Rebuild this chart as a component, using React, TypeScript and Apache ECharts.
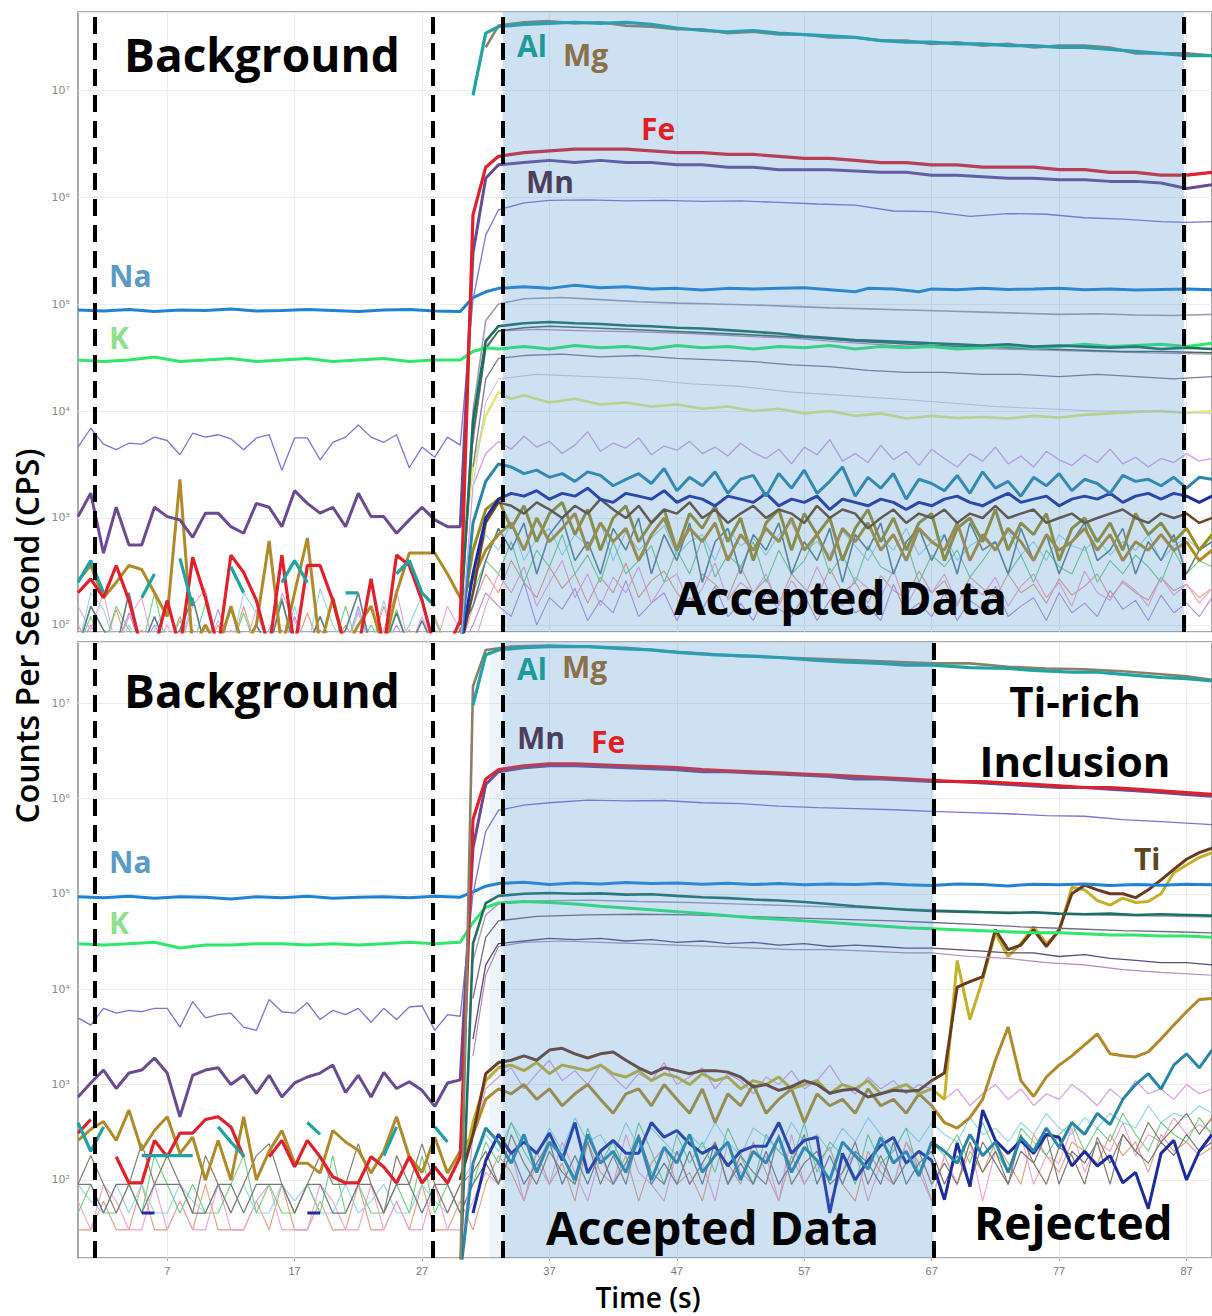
import React, { useEffect, useRef } from "react";
import * as echarts from "echarts";

// ---------------- axes ----------------
const X_MIN = 0;
const X_MAX = 89;
const X_TICKS = [7, 17, 27, 37, 47, 57, 67, 77, 87];
const TOP_Y_RANGE = [86, 5.36e7];
const BOT_Y_RANGE = [15.2, 4.36e7];
const SUPERSCRIPTS = ["⁰", "¹", "²", "³", "⁴", "⁵", "⁶", "⁷", "⁸", "⁹"];

// ---------------- windows (s) ----------------
const TOP_DASHED = [1.33, 27.84, 33.33, 86.82];
const BOT_DASHED = [1.33, 27.84, 33.33, 67.14];
const TOP_ACCEPTED = [33.33, 86.82];
const BOT_ACCEPTED = [33.33, 67.14];
const BOT_EDGE = [32.3, 33.33];

type Pt = [number, number | string];
const seq = (start: number, vals: (number | null)[]): Pt[] =>
  vals.map((v, i) => [start + i, v == null ? "-" : v] as Pt);

// =============== TOP PANEL ===============
const AL_TOP_BG = [250, 400, 200, null, null, 180, 300, null, 420, 150, null, null, 350, 200, null, null, 250, 400, 250, null, null, 200, 200, null, null, 300, 400, 200, 150, null, null];
const AL_TOP_SIG: Pt[] = [[31, 8.9e6], [32, 3.4e7], [33, 3.9e7], [35, 4.1e7], [37, 4.2e7], [39, 4.3e7], [41, 4.2e7], [43, 4.3e7], [45, 4.1e7], [47, 3.8e7], [49, 3.6e7], [51, 3.5e7], [53, 3.6e7], [55, 3.4e7], [57, 3.3e7], [59, 3.2e7], [61, 3.1e7], [63, 2.9e7], [65, 2.8e7], [67, 2.8e7], [69, 2.7e7], [71, 2.7e7], [73, 2.6e7], [75, 2.6e7], [77, 2.5e7], [79, 2.5e7], [81, 2.4e7], [83, 2.3e7], [85, 2.2e7], [87, 2.1e7], [89, 2.1e7]];
const MG_TOP: Pt[] = [[32, 2.5e7], [33, 4.0e7], [35, 4.3e7], [37, 4.4e7], [39, 4.2e7], [41, 4.3e7], [43, 4.0e7], [45, 3.9e7], [47, 3.7e7], [49, 3.7e7], [51, 3.4e7], [53, 3.5e7], [55, 3.3e7], [57, 3.3e7], [59, 3.1e7], [61, 3.1e7], [63, 2.9e7], [65, 2.9e7], [67, 2.7e7], [69, 2.8e7], [71, 2.6e7], [73, 2.7e7], [75, 2.5e7], [77, 2.6e7], [79, 2.6e7], [81, 2.5e7], [83, 2.2e7], [85, 2.2e7], [87, 2.2e7], [89, 2.1e7]];
const FE_TOP_BG = [200, 270, 180, 360, 170, 60, 60, 170, 60, 430, 180, 60, 450, 310, 170, 60, 450, 60, 360, 360, 170, 60, 60, 270, 60, 450, 360, 170, 60, 60, 110];
const FE_TOP_SIG: Pt[] = [[31, 6.8e5], [32, 1.9e6], [33, 2.4e6], [35, 2.6e6], [37, 2.7e6], [39, 2.8e6], [41, 2.8e6], [43, 2.8e6], [45, 2.7e6], [47, 2.6e6], [49, 2.6e6], [51, 2.5e6], [53, 2.5e6], [55, 2.4e6], [57, 2.3e6], [59, 2.3e6], [61, 2.2e6], [63, 2.1e6], [65, 2.1e6], [67, 2.0e6], [69, 2.0e6], [71, 1.9e6], [73, 1.9e6], [75, 1.9e6], [77, 1.8e6], [79, 1.8e6], [81, 1.7e6], [83, 1.7e6], [85, 1.6e6], [87, 1.6e6], [89, 1.7e6]];
const MN_TOP_BG = [1030, 1700, 470, 1260, 560, 560, 1260, 1030, 960, 660, 1110, 1110, 830, 720, 1370, 1260, 830, 1800, 1370, 1110, 1260, 830, 1700, 1030, 1030, 720, 960, 1260, 960, 830, 830];
const MN_TOP_SIG: Pt[] = [[31, 3e5], [32, 1.5e6], [33, 2.0e6], [35, 2.1e6], [37, 2.2e6], [39, 2.1e6], [41, 2.2e6], [43, 2.1e6], [45, 2.1e6], [47, 2.0e6], [49, 2.0e6], [51, 1.9e6], [53, 1.9e6], [55, 1.8e6], [57, 1.8e6], [59, 1.8e6], [61, 1.75e6], [63, 1.7e6], [65, 1.7e6], [67, 1.6e6], [69, 1.6e6], [71, 1.55e6], [73, 1.5e6], [75, 1.5e6], [77, 1.45e6], [79, 1.45e6], [81, 1.4e6], [83, 1.4e6], [85, 1.35e6], [87, 1.2e6], [89, 1.3e6]];
const VIOLET_TOP_BG = [4600, 6900, 4900, 4350, 5000, 4900, 5700, 5300, 3900, 6200, 5700, 6000, 5500, 4350, 5600, 6000, 2800, 5600, 5600, 3500, 5100, 5700, 7400, 5700, 5100, 6000, 2950, 4600, 3700, 5700, 4800];
const VIOLET_TOP_SIG: Pt[] = [[31, 1.1e5], [32, 4.4e5], [33, 7.6e5], [35, 8.8e5], [37, 9.3e5], [40, 9.4e5], [43, 9.2e5], [46, 9.3e5], [49, 9.1e5], [52, 9.2e5], [55, 8.9e5], [58, 8.6e5], [61, 8.4e5], [64, 7.4e5], [67, 7.3e5], [70, 6.6e5], [73, 7.0e5], [76, 6.9e5], [79, 6.4e5], [82, 6.2e5], [85, 5.9e5], [87, 5.8e5], [89, 5.9e5]];
const NA_TOP: Pt[] = [[0, 8.8e4], [2, 8.6e4], [4, 8.9e4], [6, 8.5e4], [8, 8.8e4], [10, 8.7e4], [12, 9.0e4], [14, 8.6e4], [16, 8.7e4], [18, 8.9e4], [20, 8.7e4], [22, 8.5e4], [24, 8.8e4], [26, 8.9e4], [28, 8.6e4], [30, 8.5e4], [31, 1.15e5], [32, 1.3e5], [33, 1.4e5], [35, 1.45e5], [37, 1.4e5], [39, 1.5e5], [41, 1.42e5], [43, 1.45e5], [45, 1.38e5], [47, 1.4e5], [49, 1.35e5], [51, 1.4e5], [53, 1.38e5], [55, 1.4e5], [57, 1.42e5], [59, 1.36e5], [61, 1.3e5], [62, 1.4e5], [64, 1.38e5], [66, 1.3e5], [67, 1.38e5], [69, 1.36e5], [71, 1.4e5], [73, 1.37e5], [75, 1.38e5], [77, 1.4e5], [79, 1.36e5], [81, 1.38e5], [83, 1.35e5], [85, 1.37e5], [87, 1.38e5], [89, 1.36e5]];
const K_TOP: Pt[] = [[0, 3.0e4], [2, 2.9e4], [4, 3.0e4], [6, 3.2e4], [8, 2.9e4], [10, 3.0e4], [12, 3.1e4], [14, 2.9e4], [16, 3.0e4], [18, 3.1e4], [20, 2.9e4], [22, 3.0e4], [24, 3.1e4], [26, 2.9e4], [28, 3.0e4], [30, 3.0e4], [31, 3.6e4], [32, 3.9e4], [33, 3.8e4], [35, 4.0e4], [37, 3.8e4], [39, 4.1e4], [41, 3.9e4], [43, 4.0e4], [45, 3.8e4], [47, 4.1e4], [49, 3.9e4], [51, 4.0e4], [53, 3.8e4], [55, 4.0e4], [57, 3.9e4], [59, 4.1e4], [61, 3.8e4], [63, 4.0e4], [65, 3.9e4], [67, 4.0e4], [69, 3.8e4], [71, 3.9e4], [73, 4.1e4], [75, 3.9e4], [77, 4.0e4], [79, 4.2e4], [81, 4.0e4], [83, 4.1e4], [85, 4.2e4], [87, 4.0e4], [89, 4.3e4]];
const DKTEAL_TOP: Pt[] = [[30, 100], [31, 8e3], [32, 4.5e4], [33, 6.2e4], [35, 6.6e4], [37, 6.8e4], [39, 6.6e4], [41, 6.5e4], [43, 6.3e4], [45, 6.2e4], [47, 6.0e4], [49, 5.9e4], [51, 5.7e4], [53, 5.5e4], [55, 5.3e4], [57, 5.0e4], [59, 4.8e4], [61, 4.6e4], [63, 4.5e4], [65, 4.4e4], [67, 4.3e4], [69, 4.2e4], [71, 4.1e4], [73, 4.2e4], [75, 4.0e4], [77, 4.1e4], [79, 4.0e4], [81, 3.9e4], [83, 4.0e4], [85, 3.8e4], [87, 3.9e4], [89, 3.8e4]];
const DKGREEN_TOP: Pt[] = [[30, 100], [31, 6e3], [32, 3.8e4], [33, 5.6e4], [35, 6.0e4], [37, 6.2e4], [40, 6.0e4], [43, 5.8e4], [46, 5.6e4], [49, 5.4e4], [52, 5.2e4], [55, 5.0e4], [58, 4.8e4], [61, 4.5e4], [64, 4.3e4], [67, 4.1e4], [70, 4.0e4], [73, 3.9e4], [76, 3.8e4], [79, 3.7e4], [82, 3.6e4], [85, 3.6e4], [89, 3.5e4]];
const GRAY_TOP: Pt[] = [[30, 100], [31, 1e4], [32, 7e4], [33, 1.0e5], [35, 1.12e5], [38, 1.15e5], [41, 1.1e5], [44, 1.05e5], [47, 1.02e5], [50, 1.0e5], [53, 9.8e4], [56, 9.5e4], [59, 9.2e4], [62, 9.0e4], [65, 8.8e4], [68, 8.6e4], [71, 8.4e4], [74, 8.2e4], [77, 8.0e4], [80, 8.1e4], [83, 7.9e4], [86, 7.8e4], [89, 8.0e4]];
const PINKGRAY_TOP: Pt[] = [[31, 5e3], [32, 4e4], [33, 5.6e4], [36, 5.8e4], [40, 5.6e4], [44, 5.5e4], [48, 5.3e4], [52, 5.0e4], [56, 4.8e4], [60, 4.4e4], [64, 4.1e4], [68, 3.9e4], [72, 3.8e4], [76, 3.7e4], [80, 3.6e4], [84, 3.5e4], [89, 3.4e4]];
const GRAYPURPLE_TOP: Pt[] = [[31, 3e3], [32, 2e4], [33, 3.1e4], [35, 3.3e4], [38, 3.4e4], [41, 3.2e4], [44, 3.3e4], [47, 3.1e4], [50, 3.0e4], [53, 2.9e4], [56, 2.7e4], [59, 2.6e4], [62, 2.4e4], [65, 2.3e4], [68, 2.3e4], [71, 2.2e4], [74, 2.2e4], [77, 2.1e4], [80, 2.2e4], [83, 2.1e4], [86, 2.0e4], [89, 2.1e4]];
const LIGHTGRAY_TOP: Pt[] = [[31, 2e3], [32, 1.2e4], [33, 2.0e4], [36, 2.2e4], [40, 2.1e4], [44, 2.0e4], [48, 1.8e4], [52, 1.7e4], [56, 1.5e4], [60, 1.4e4], [64, 1.3e4], [68, 1.2e4], [72, 1.1e4], [76, 1.05e4], [80, 1.0e4], [84, 1.0e4], [89, 9.5e3]];
const YELLOW_TOP: Pt[] = [[30, 300], [31, 3e3], [32, 9e3], [33, 1.5e4], [34, 1.3e4], [35, 1.4e4], [37, 1.2e4], [39, 1.3e4], [41, 1.15e4], [43, 1.2e4], [45, 1.1e4], [47, 1.15e4], [49, 1.05e4], [51, 1.1e4], [53, 1.0e4], [55, 1.05e4], [57, 9.5e3], [59, 1.0e4], [61, 9.0e3], [63, 9.5e3], [65, 8.5e3], [67, 9.0e3], [69, 8.6e3], [71, 8.8e3], [73, 8.5e3], [75, 9.0e3], [77, 8.7e3], [79, 9.2e3], [81, 9.5e3], [83, 9.8e3], [85, 1.0e4], [87, 9.6e3], [89, 1.0e4]];
const ORCHID_TOP = [60, 2e3, 4e3, 5.2e3, 4.4e3, 5.8e3, 4.6e3, 5.2e3, 4.0e3, 4.8e3, 6.4e3, 4.2e3, 5.0e3, 4.5e3, 5.6e3, 3.9e3, 4.7e3, 4.3e3, 5.2e3, 4.0e3, 4.6e3, 3.8e3, 5.0e3, 4.1e3, 3.6e3, 4.4e3, 3.2e3, 4.6e3, 3.9e3, 5.4e3, 3.4e3, 4.0e3, 3.3e3, 4.8e3, 3.5e3, 4.2e3, 3.1e3, 4.4e3, 3.6e3, 3.0e3, 4.0e3, 3.4e3, 4.6e3, 3.2e3, 3.8e3, 3.0e3, 4.2e3, 3.5e3, 3.1e3, 3.9e3, 3.3e3, 4.4e3, 3.2e3, 3.7e3, 3.0e3, 3.6e3, 3.3e3, 4.0e3, 3.4e3, 3.6e3];
const TEAL_TOP = [60, 900, 2200, 3200, 3000, 2600, 2800, 2400, 2600, 2200, 2700, 2500, 2000, 2300, 2600, 2100, 2900, 1800, 2400, 2000, 2700, 1700, 2300, 2500, 1600, 2600, 1900, 2800, 1700, 2200, 3000, 1600, 2400, 1900, 2600, 1500, 2300, 2100, 1800, 2500, 1700, 2700, 1900, 2200, 1600, 2400, 2000, 2600, 1800, 2300, 2100, 1700, 2500, 2200, 2300, 2000, 2400, 1900, 2400, 2300];
const DKBLUE_TOP = [60, 300, 1000, 1500, 1700, 1600, 1800, 1500, 1700, 1600, 1900, 1500, 1400, 1700, 1600, 1500, 1800, 1400, 1600, 1500, 1300, 1600, 1500, 1400, 1700, 1300, 1500, 1400, 1600, 1200, 1500, 1400, 1300, 1500, 1400, 1200, 1400, 1300, 1500, 1600, 1400, 1300, 1500, 1700, 1400, 1500, 1600, 1300, 1500, 1600, 1500, 1700, 1400, 1600, 1700, 1500, 1700, 1600, 1400, 1600];
const BROWN_TOP = [60, 200, 900, 1400, 1300, 1100, 1400, 1200, 1000, 1300, 1100, 1500, 1200, 1000, 1300, 900, 1200, 1100, 1400, 1000, 1200, 900, 1100, 1300, 1000, 1200, 1100, 900, 1300, 1000, 1200, 1100, 800, 1000, 1200, 900, 1100, 1000, 1200, 900, 1100, 1000, 1300, 1000, 1100, 1200, 900, 1000, 1100, 900, 1000, 1100, 1200, 1000, 900, 1100, 1000, 1100, 900, 1000];
const OLIVE_TOP = [100, 500, 1200, 1500, 800, 1300, 600, 1100, 1400, 700, 1200, 500, 1000, 1300, 600, 900, 1200, 500, 1100, 800, 1300, 600, 1000, 400, 900, 1200, 500, 1100, 700, 1000, 400, 800, 1200, 600, 1000, 500, 900, 1100, 400, 800, 1000, 600, 1200, 500, 900, 700, 1100, 400, 800, 1000, 600, 900, 500, 1100, 700, 900, 600, 800, 500, 700];
const GOLD_TOP = [260, 360, 180, 250, 360, 330, 200, 120, 2300, 60, 100, 60, 150, 60, 100, 610, 60, 200, 650, 60, 180, 60, 100, 150, 60, 200, 470, 470, 470, 300, 180, 270, 500, 700, 900, 500, 1000, 600, 800, 1100, 500, 900, 600, 800, 400, 700, 1000, 500, 800, 600, 900, 400, 700, 500, 800, 600, 1000, 500, 700, 400, 800, 600, 900, 500, 700, 400, 800, 600, 500, 900, 400, 700, 500, 800, 600, 400, 700, 500, 600, 800, 500, 700, 400, 600, 500, 700, 500, 600, 400, 500];
const GRAYTEAL_TOP = [60, 150, 90, 60, 200, 60, 120, 60, 90, 180, 60, 60, 140, 60, 100, 60, 170, 60, 60, 120, 60, 90, 200, 60, 60, 130, 60, 110, 60, 60, 90, 150, 400, 800, 500, 900, 300, 700, 1000, 400, 600, 300, 800, 500, 1000, 300, 700, 400, 900, 250, 600, 800, 300, 700, 500, 900, 300, 600, 400, 800, 250, 700, 500, 900, 300, 600, 800, 400, 700, 300, 900, 500, 600, 300, 800, 400, 700, 300, 600, 900, 400, 500, 800, 300, 600, 400, 700, 300, 500, 600];
const LGREEN_TOP = [60, 120, 60, 150, 90, 60, 200, 60, 110, 60, 160, 60, 60, 130, 60, 90, 180, 60, 60, 120, 60, 150, 60, 100, 60, 140, 60, 60, 110, 60, 60, 200, 400, 300, 600, 250, 500, 350, 700, 300, 450, 250, 600, 300, 400, 550, 250, 500, 300, 650, 280, 450, 350, 600, 250, 500, 300, 400, 700, 300, 450, 250, 550, 350, 300, 600, 250, 450, 350, 500, 280, 400, 600, 300, 450, 250, 500, 350, 300, 550, 250, 400, 300, 450, 350, 250, 500, 300, 400, 350];
const PINK_TOP = [150, 90, 200, 60, 120, 180, 60, 100, 60, 150, 220, 60, 90, 60, 140, 60, 200, 110, 60, 60, 170, 60, 130, 60, 90, 210, 60, 120, 60, 150, 90, 60, 150, 300, 200, 350, 150, 250, 400, 180, 300, 150, 280, 200, 350, 160, 250, 300, 150, 220, 380, 170, 250, 200, 300, 150, 260, 180, 350, 200, 150, 280, 220, 180, 330, 150, 250, 200, 300, 160, 240, 190, 280, 150, 230, 300, 180, 250, 150, 320, 200, 170, 260, 210, 150, 280, 190, 240, 160, 220];
const LBLUE_TOP = [60, 200, 140, 60, 100, 60, 90, 160, 60, 180, 60, 110, 60, 200, 130, 60, 60, 150, 60, 220, 100, 60, 140, 60, 170, 60, 100, 190, 60, 80, 60, 300, 700, 500, 900, 400, 650, 800, 450, 700, 550, 900, 400, 750, 500, 650, 850, 450, 600, 700, 400, 800, 550, 650, 450, 700, 900, 500, 600, 450, 750, 550, 400, 650, 500, 800, 450, 600, 700, 400, 550, 650, 500, 750, 450, 600, 400, 700, 550, 500, 650, 450, 600, 500, 700, 400, 550, 650, 500, 600];
const SALMON_TOP = [100, 60, 60, 140, 60, 90, 60, 60, 120, 60, 60, 100, 60, 150, 60, 60, 90, 60, 130, 60, 60, 100, 60, 60, 150, 60, 90, 60, 120, 60, 60, 150, 300, 200, 400, 250, 180, 350, 220, 300, 160, 280, 200, 380, 180, 260, 320, 200, 150, 300, 240, 180, 350, 200, 270, 160, 300, 220, 180, 340, 200, 250, 160, 290, 210, 180, 320, 200, 260, 150, 280, 220, 180, 300, 200, 240, 160, 270, 190, 230, 300, 180, 250, 200, 170, 280, 210, 240, 180, 220];
const LAVENDER_TOP = [60, 100, 60, 60, 130, 60, 100, 60, 60, 90, 60, 140, 60, 60, 100, 60, 60, 120, 60, 90, 60, 60, 150, 60, 60, 100, 60, 60, 90, 60, 60, 100, 200, 150, 120, 250, 100, 180, 140, 220, 110, 170, 130, 260, 120, 160, 200, 110, 180, 140, 230, 120, 160, 110, 200, 140, 120, 190, 110, 170, 220, 130, 150, 110, 240, 130, 160, 120, 200, 110, 170, 140, 230, 120, 150, 180, 110, 200, 130, 160, 120, 210, 140, 170, 110, 190, 130, 160, 120, 180];

// =============== BOTTOM PANEL ===============
const AL_BOT_BG = [400, 200, 360, null, null, 180, 180, 180, 180, 180, null, 360, 250, 180, null, 360, null, null, 400, 300, null, null, 360, null, 180, 360, null, null, 360, 250, null];
const AL_BOT_SIG: Pt[] = [[31, 9.5e6], [32, 3.2e7], [33, 3.6e7], [35, 3.8e7], [37, 3.9e7], [40, 3.9e7], [43, 3.7e7], [45, 3.6e7], [47, 3.4e7], [50, 3.2e7], [53, 3.1e7], [55, 3.0e7], [58, 2.8e7], [60, 2.7e7], [63, 2.6e7], [65, 2.5e7], [67, 2.5e7], [70, 2.35e7], [73, 2.3e7], [75, 2.2e7], [78, 2.1e7], [80, 2.1e7], [83, 1.95e7], [85, 1.85e7], [87, 1.8e7], [89, 1.7e7]];
const MG_BOT: Pt[] = [[30, 10], [31, 1.5e7], [32, 3.6e7], [34, 3.9e7], [37, 4.0e7], [40, 3.9e7], [43, 3.8e7], [46, 3.5e7], [49, 3.3e7], [52, 3.1e7], [55, 3.0e7], [58, 2.9e7], [61, 2.8e7], [64, 2.7e7], [67, 2.6e7], [70, 2.6e7], [73, 2.4e7], [76, 2.3e7], [79, 2.25e7], [82, 2.15e7], [85, 2.0e7], [87, 1.9e7], [89, 1.75e7]];
const FE_BOT_BG = [310, 430, null, 175, 93, 93, 260, 175, 310, 310, 430, 460, 360, 175, null, 175, 260, 137, 260, 175, 108, 93, 93, 175, 137, 93, 175, 93, 137, 93, 175];
const FE_BOT_SIG: Pt[] = [[31, 6e5], [32, 1.6e6], [33, 2.0e6], [35, 2.2e6], [37, 2.3e6], [39, 2.3e6], [41, 2.25e6], [43, 2.2e6], [45, 2.15e6], [47, 2.1e6], [49, 2.0e6], [51, 1.95e6], [53, 1.9e6], [55, 1.85e6], [57, 1.8e6], [59, 1.75e6], [61, 1.7e6], [63, 1.65e6], [65, 1.6e6], [67, 1.55e6], [69, 1.5e6], [71, 1.5e6], [73, 1.45e6], [75, 1.4e6], [77, 1.35e6], [79, 1.3e6], [81, 1.3e6], [83, 1.25e6], [85, 1.2e6], [87, 1.15e6], [89, 1.1e6]];
const MN_BOT_BG = [740, 1040, 1420, 910, 1320, 1420, 1900, 1320, 460, 1250, 1420, 1500, 1000, 1250, 810, 1250, 740, 1040, 1200, 1320, 1600, 830, 1250, 740, 1340, 910, 1070, 870, 590, 1040, 1120];
const MN_BOT_SIG: Pt[] = [[31, 3e5], [32, 1.4e6], [33, 1.9e6], [35, 2.1e6], [37, 2.2e6], [39, 2.2e6], [41, 2.15e6], [43, 2.1e6], [45, 2.05e6], [47, 2.0e6], [49, 1.9e6], [51, 1.9e6], [53, 1.85e6], [55, 1.8e6], [57, 1.75e6], [59, 1.7e6], [61, 1.6e6], [63, 1.6e6], [65, 1.55e6], [67, 1.5e6], [69, 1.5e6], [71, 1.45e6], [73, 1.4e6], [75, 1.35e6], [77, 1.3e6], [79, 1.3e6], [81, 1.25e6], [83, 1.2e6], [85, 1.15e6], [87, 1.1e6], [89, 1.05e6]];
const VIOLET_BOT_BG = [5000, 4200, 6300, 5600, 6000, 5800, 6300, 6300, 4000, 7400, 5000, 5400, 5600, 4000, 3700, 7800, 5800, 5600, 7200, 4800, 6000, 5400, 6300, 4500, 6300, 4800, 6500, 6700, 3700, 5400, 5200];
const VIOLET_BOT_SIG: Pt[] = [[31, 1.0e5], [32, 4.5e5], [33, 7.5e5], [35, 8.5e5], [37, 9.0e5], [40, 9.6e5], [43, 9.4e5], [46, 9.5e5], [49, 9.0e5], [52, 8.8e5], [55, 8.3e5], [58, 8.0e5], [61, 7.8e5], [64, 7.6e5], [67, 7.3e5], [70, 7.1e5], [73, 6.9e5], [76, 6.6e5], [79, 6.5e5], [82, 6.0e5], [85, 5.7e5], [87, 5.5e5], [89, 5.3e5]];
const NA_BOT: Pt[] = [[0, 9.3e4], [2, 9.1e4], [4, 9.4e4], [6, 9.0e4], [8, 9.3e4], [10, 9.2e4], [12, 8.8e4], [14, 9.3e4], [16, 9.1e4], [18, 9.4e4], [20, 9.0e4], [22, 9.2e4], [24, 9.3e4], [26, 9.1e4], [28, 9.4e4], [30, 9.2e4], [31, 1.05e5], [32, 1.2e5], [33, 1.28e5], [35, 1.32e5], [37, 1.25e5], [39, 1.3e5], [41, 1.27e5], [43, 1.31e5], [45, 1.28e5], [47, 1.3e5], [49, 1.26e5], [51, 1.29e5], [53, 1.25e5], [55, 1.28e5], [57, 1.24e5], [59, 1.27e5], [61, 1.25e5], [63, 1.28e5], [65, 1.24e5], [67, 1.22e5], [69, 1.27e5], [71, 1.25e5], [73, 1.21e5], [75, 1.26e5], [77, 1.24e5], [79, 1.27e5], [81, 1.22e5], [83, 1.25e5], [85, 1.23e5], [87, 1.26e5], [89, 1.24e5]];
const K_BOT: Pt[] = [[0, 3.0e4], [2, 2.9e4], [4, 3.0e4], [6, 3.1e4], [8, 2.7e4], [10, 2.9e4], [12, 2.9e4], [14, 3.0e4], [16, 3.0e4], [18, 2.9e4], [20, 3.0e4], [22, 2.9e4], [24, 3.0e4], [26, 3.1e4], [28, 3.0e4], [30, 3.1e4], [31, 5e4], [32, 7.2e4], [33, 8.0e4], [35, 8.3e4], [37, 8.1e4], [39, 7.8e4], [41, 7.4e4], [43, 7.1e4], [45, 6.8e4], [47, 6.5e4], [49, 6.2e4], [51, 5.9e4], [53, 5.6e4], [55, 5.4e4], [57, 5.2e4], [59, 5.0e4], [61, 4.8e4], [63, 4.6e4], [65, 4.4e4], [67, 4.3e4], [69, 4.2e4], [71, 4.1e4], [73, 4.0e4], [75, 3.9e4], [77, 3.9e4], [79, 3.8e4], [81, 3.7e4], [83, 3.7e4], [85, 3.6e4], [87, 3.6e4], [89, 3.5e4]];
const DKTEAL_BOT: Pt[] = [[30, 10], [31, 3e4], [32, 8e4], [33, 9.5e4], [35, 1.0e5], [37, 1.02e5], [39, 1.0e5], [41, 1.01e5], [43, 9.8e4], [45, 9.9e4], [47, 9.5e4], [49, 9.2e4], [51, 9.0e4], [53, 8.7e4], [55, 8.5e4], [57, 8.2e4], [59, 7.8e4], [61, 7.4e4], [63, 7.1e4], [65, 6.8e4], [67, 6.6e4], [69, 6.5e4], [71, 6.4e4], [73, 6.3e4], [75, 6.4e4], [77, 6.2e4], [79, 6.1e4], [81, 6.2e4], [83, 6.0e4], [85, 6.1e4], [87, 6.0e4], [89, 5.9e4]];
const GRAY_BOT: Pt[] = [[31, 2e4], [32, 6e4], [33, 7.8e4], [36, 8.4e4], [40, 8.6e4], [44, 8.3e4], [48, 8.1e4], [52, 7.8e4], [56, 7.5e4], [60, 7.2e4], [64, 7.0e4], [67, 6.8e4], [70, 6.6e4], [74, 6.3e4], [78, 6.1e4], [82, 5.9e4], [86, 5.8e4], [89, 5.7e4]];
const GRAY2_BOT: Pt[] = [[31, 8e3], [32, 3.5e4], [33, 5.2e4], [36, 5.8e4], [40, 6.0e4], [44, 6.1e4], [48, 6.0e4], [52, 5.8e4], [56, 5.6e4], [60, 5.4e4], [64, 5.2e4], [67, 5.0e4], [70, 4.8e4], [74, 4.5e4], [78, 4.3e4], [82, 4.1e4], [86, 4.0e4], [89, 3.9e4]];
const DKPURPLE_BOT: Pt[] = [[31, 3e3], [32, 1.8e4], [33, 3.0e4], [35, 3.2e4], [37, 3.4e4], [39, 3.3e4], [41, 3.4e4], [43, 3.2e4], [45, 3.3e4], [47, 3.1e4], [49, 3.2e4], [51, 3.0e4], [53, 3.1e4], [55, 2.9e4], [57, 3.0e4], [59, 2.8e4], [61, 2.9e4], [63, 2.8e4], [65, 2.7e4], [67, 2.7e4], [69, 2.6e4], [71, 2.5e4], [73, 2.4e4], [75, 2.4e4], [77, 2.2e4], [79, 2.3e4], [81, 2.1e4], [83, 2.0e4], [85, 1.9e4], [87, 1.9e4], [89, 1.8e4]];
const PINKPURPLE_BOT: Pt[] = [[31, 2e3], [32, 1.4e4], [33, 2.8e4], [35, 3.1e4], [38, 3.2e4], [41, 3.1e4], [44, 3.0e4], [47, 2.9e4], [50, 2.8e4], [53, 2.7e4], [56, 2.6e4], [59, 2.6e4], [62, 2.5e4], [65, 2.4e4], [67, 2.4e4], [70, 2.2e4], [73, 2.1e4], [76, 1.9e4], [79, 1.8e4], [82, 1.6e4], [85, 1.5e4], [89, 1.4e4]];
const TI_DARK_BOT = [100, 300, 1300, 1700, 1800, 2000, 1800, 2300, 2400, 2100, 1900, 2100, 2200, 1800, 1500, 1300, 1500, 1400, 1300, 1400, 1400, 1350, 1200, 950, 1000, 870, 950, 1100, 1000, 810, 870, 900, 740, 800, 870, 850, 870, 1100, 1320, 1.05e4, 1.2e4, 1.35e4, 4.2e4, 2.6e4, 2.9e4, 4.2e4, 2.8e4, 4.2e4, 1.0e5, 1.23e5, 1.1e5, 1.0e5, 1.0e5, 9.1e4, 1.1e5, 1.4e5, 1.8e5, 2.3e5, 2.7e5, 3.0e5];
const TI_YEL_BOT = [100, 400, 1100, 1500, 1600, 1400, 1700, 1300, 1600, 1500, 1400, 1600, 1300, 1200, 1400, 1100, 1300, 1200, 1000, 1300, 1100, 1200, 900, 1100, 1000, 1200, 900, 1000, 1100, 800, 1000, 900, 1100, 800, 900, 1000, 800, 900, 700, 2.0e4, 4.8e3, 1.26e4, 3.9e4, 2.2e4, 3.0e4, 4.5e4, 3.0e4, 4.0e4, 1.17e5, 1.1e5, 8.5e4, 7.6e4, 9.0e4, 8.1e4, 8.3e4, 1.0e5, 1.66e5, 2.0e5, 2.4e5, 2.7e5];
const GOLD_BOT = [260, 340, 410, 260, 540, 205, 330, 460, 190, 280, 100, 260, 100, 460, 100, 200, 330, 150, 150, 118, 330, 250, 205, 118, 200, 460, 175, 120, 280, 118, 200, 300, 700, 900, 800, 1000, 700, 900, 600, 800, 1000, 700, 500, 800, 900, 600, 1000, 700, 500, 900, 400, 800, 600, 1000, 500, 700, 900, 400, 800, 600, 700, 500, 900, 600, 700, 500, 800, 600, 400, 350, 450, 700, 1800, 4000, 1100, 750, 1200, 1600, 2000, 2600, 3400, 2100, 2000, 1950, 2200, 3000, 4200, 5800, 7800, 8000];
const TEAL_BOT = [10, 150, 350, 250, 150, 300, 120, 250, 180, 100, 300, 150, 200, 120, 280, 100, 220, 150, 300, 120, 180, 250, 100, 200, 150, 280, 120, 220, 160, 100, 250, 180, 130, 280, 150, 200, 110, 250, 200, 150, 300, 180, 250, 120, 280, 200, 350, 220, 400, 300, 500, 380, 700, 1000, 1300, 900, 1600, 2100, 1500, 2300];
const DKBLUE_BOT = [null, null, null, null, null, 45, 45, null, null, null, null, null, null, null, null, null, null, null, 45, 45, null, null, null, null, null, null, null, null, null, null, null, 45, 160, 300, 190, 250, 190, 310, 160, 400, 118, 200, 260, 190, 190, 400, 280, 330, 240, 190, 225, 140, 200, 225, 225, 400, 190, 260, 280, 45, 190, 100, 160, 230, 280, 150, 200, 160, 62, 245, 85, 540, 260, 190, 260, 190, 300, 280, 140, 200, 140, 180, 93, 120, 50, 190, 260, 100, 200, 300];
const ORCHID_BOT = [10, 300, 900, 1200, 1500, 900, 1300, 1800, 1100, 1400, 1000, 1600, 1200, 900, 1300, 1100, 1700, 1000, 1200, 1500, 900, 1300, 1100, 800, 1200, 1000, 1400, 900, 1100, 1600, 1000, 800, 1200, 900, 1100, 800, 1000, 900, 700, 900, 600, 800, 1000, 700, 900, 600, 800, 700, 1000, 800, 600, 900, 700, 1100, 800, 900, 700, 1000, 800, 900];
const GRAYBROWN_BOT = [90, 180, 90, 45, 90, 240, 90, 180, 90, 45, 180, 90, 45, 90, 180, 240, 90, 45, 90, 180, 90, 90, 240, 90, 45, 180, 90, 240, 90, 45, 90, 120, 200, 90, 300, 150, 90, 200, 120, 90, 250, 90, 180, 90, 300, 120, 90, 200, 90, 150, 250, 90, 180, 120, 90, 300, 90, 150, 200, 90, 120, 250, 90, 180, 90, 150, 200, 90, 150, 90, 250, 120, 200, 90, 300, 150, 90, 220, 180, 90, 280, 150, 300, 200, 400, 250, 350, 500, 300, 450];
const PINK_BOT = [60, 30, 90, 60, 30, 30, 90, 30, 60, 30, 30, 90, 30, 30, 60, 90, 30, 30, 30, 90, 60, 30, 30, 90, 30, 60, 30, 30, 90, 30, 30, 60, 120, 90, 200, 60, 150, 90, 250, 120, 60, 180, 90, 300, 120, 90, 60, 200, 90, 150, 60, 250, 120, 90, 180, 60, 300, 90, 150, 60, 120, 200, 60, 150, 90, 250, 120, 60, 180, 90, 250, 60, 200, 120, 300, 90, 180, 150, 350, 120, 250, 200, 400, 180, 300, 250, 450, 300, 380, 320];
const LBLUE_BOT = [90, 60, 45, 90, 45, 90, 45, 45, 90, 60, 45, 90, 45, 90, 45, 45, 90, 60, 90, 45, 45, 90, 45, 60, 90, 45, 45, 90, 60, 45, 90, 150, 300, 200, 400, 250, 180, 350, 200, 450, 250, 300, 180, 400, 220, 350, 250, 180, 300, 220, 400, 250, 180, 350, 280, 200, 400, 250, 300, 200, 350, 250, 450, 300, 200, 350, 250, 400, 300, 250, 450, 300, 350, 250, 400, 300, 500, 350, 300, 450, 350, 500, 400, 350, 600, 400, 500, 450, 600, 500];
const GREEN_BOT = [45, 90, 45, 45, 90, 45, 180, 90, 45, 90, 45, 45, 90, 180, 45, 90, 45, 45, 90, 45, 180, 45, 90, 45, 45, 90, 45, 180, 45, 90, 45, 90, 250, 150, 400, 200, 120, 300, 180, 90, 350, 150, 250, 120, 400, 200, 90, 300, 150, 250, 120, 350, 180, 90, 300, 200, 150, 400, 120, 250, 180, 90, 300, 150, 200, 350, 120, 250, 180, 300, 150, 400, 200, 120, 350, 250, 180, 300, 400, 200, 350, 250, 500, 300, 200, 400, 300, 250, 450, 300];
const GRAYN_BOT = [90, 90, 45, 90, 90, 45, 90, 90, 90, 45, 45, 90, 90, 45, 90, 90, 90, 45, 90, 90, 45, 45, 90, 90, 45, 90, 90, 45, 90, 90, 45, 90, 150, 90, 200, 90, 150, 250, 90, 180, 90, 200, 90, 150, 300, 90, 150, 90, 200, 90, 250, 90, 150, 90, 200, 90, 150, 300, 90, 180, 90, 200, 150, 90, 250, 90, 150, 200, 90, 180, 90, 250, 150, 90, 200, 150, 300, 90, 200, 150, 250, 90, 300, 200, 150, 250, 180, 300, 200, 250];
const SALMON_BOT = [30, 30, 60, 30, 30, 90, 30, 30, 60, 30, 90, 30, 30, 30, 60, 30, 90, 30, 30, 60, 30, 30, 90, 30, 30, 60, 30, 90, 30, 30, 60, 30, 90, 180, 120, 60, 200, 90, 150, 60, 250, 120, 90, 180, 60, 150, 220, 90, 120, 60, 200, 150, 90, 250, 120, 60, 180, 90, 150, 220, 90, 60, 200, 120, 90, 250, 150, 60, 180, 90, 200, 120, 250, 150, 90, 300, 180, 120, 250, 200, 150, 300, 180, 250, 120, 300, 200, 250, 180, 220];

// ---------------- colours ----------------
const C = {
  al: "#1fa3a3", mg: "#8a806a", fe: "#e0202a", mn: "#6a4a92", violet: "#7b74d8", na: "#1f82d4", k: "#2de86a",
  dkteal: "#1f6e62", dkgreen: "#3f6f5e", gray: "#9d9db5", pinkgray: "#b48cb4", graypurple: "#7c7a9a", lightgray: "#c9c9d8",
  yellow: "#e2e676", orchid: "#d89ce8", teal: "#2a86a8", dkblue: "#1c2ca0", brown: "#6a4526", olive: "#9a8d1e", gold: "#b08a28",
  grayteal: "#5d7d8c", lgreen: "#6fcf80", pink: "#f0a0d0", lblue: "#8fd6ea", salmon: "#e89a7c", lavender: "#b48ee0",
  tiDark: "#6b3a1e", tiYel: "#c4b12a", graybrown: "#8a7a6a", grayn: "#707880",
};
const LABEL_COLORS = { al: "#1f9a9a", mg: "#8b7048", fe: "#e21e26", mn: "#4b3f5c", na: "#5a9ac8", k: "#8ee08a", ti: "#5c4524" };

// ---------------- annotations ----------------
const FONT = '"Open Sans", "Liberation Sans", sans-serif';
const BIG_TEXTS: [string, number, number, number, string, string][] = [
  ["Background", 124, 54, 46, "#000", "left"],
  ["Background", 124, 690, 46, "#000", "left"],
  ["Accepted Data", 674, 597, 46, "#000", "left"],
  ["Accepted Data", 546, 1227, 46, "#000", "left"],
  ["Ti-rich", 1075, 700, 42, "#000", "center"],
  ["Inclusion", 1075, 760, 42, "#000", "center"],
  ["Rejected", 974, 1222, 46, "#000", "left"],
  ["Al", 517, 45, 30, LABEL_COLORS.al, "left"],
  ["Mg", 563, 54, 30, LABEL_COLORS.mg, "left"],
  ["Fe", 641, 128, 30, LABEL_COLORS.fe, "left"],
  ["Mn", 526, 181, 30, LABEL_COLORS.mn, "left"],
  ["Na", 109, 275, 30, LABEL_COLORS.na, "left"],
  ["K", 109, 337, 30, LABEL_COLORS.k, "left"],
  ["Al", 517, 668, 30, LABEL_COLORS.al, "left"],
  ["Mg", 562, 666, 30, LABEL_COLORS.mg, "left"],
  ["Mn", 517, 737, 30, LABEL_COLORS.mn, "left"],
  ["Fe", 591, 741, 30, LABEL_COLORS.fe, "left"],
  ["Na", 109, 861, 30, LABEL_COLORS.na, "left"],
  ["K", 109, 922, 30, LABEL_COLORS.k, "left"],
  ["Ti", 1134, 858, 30, LABEL_COLORS.ti, "left"],
];

function line(name: string, color: string, width: number, data: Pt[], idx: number) {
  return {
    name, type: "line", xAxisIndex: idx, yAxisIndex: idx, data,
    symbol: "none", showSymbol: false, silent: true, connectNulls: false, z: 2,
    lineStyle: { color, width }, itemStyle: { color },
  };
}

function topSeries() {
  return [
    line("LavenderTop", C.lavender, 1.1, seq(0, LAVENDER_TOP), 0),
    line("SalmonTop", C.salmon, 1.1, seq(0, SALMON_TOP), 0),
    line("PinkTop", C.pink, 1.1, seq(0, PINK_TOP), 0),
    line("LBlueTop", C.lblue, 1.1, seq(0, LBLUE_TOP), 0),
    line("LGreenTop", C.lgreen, 1.1, seq(0, LGREEN_TOP), 0),
    line("GrayTealTop", C.grayteal, 1.6, seq(0, GRAYTEAL_TOP), 0),
    line("OliveTop", C.olive, 3, seq(30, OLIVE_TOP), 0),
    line("GoldTop", C.gold, 3, seq(0, GOLD_TOP), 0),
    line("BrownTop", C.brown, 2.5, seq(30, BROWN_TOP), 0),
    line("DkBlueTop", C.dkblue, 3, seq(30, DKBLUE_TOP), 0),
    line("TealTop", C.teal, 3, seq(30, TEAL_TOP), 0),
    line("OrchidTop", C.orchid, 1.3, seq(30, ORCHID_TOP), 0),
    line("YellowTop", C.yellow, 2.6, YELLOW_TOP, 0),
    line("LightGrayTop", C.lightgray, 1.1, LIGHTGRAY_TOP, 0),
    line("GrayPurpleTop", C.graypurple, 1.3, GRAYPURPLE_TOP, 0),
    line("PinkGrayTop", C.pinkgray, 1.3, PINKGRAY_TOP, 0),
    line("GrayTop", C.gray, 1.6, GRAY_TOP, 0),
    line("DkGreenTop", C.dkgreen, 1.6, DKGREEN_TOP, 0),
    line("K", C.k, 3, K_TOP, 0),
    line("DkTealTop", C.dkteal, 2.6, DKTEAL_TOP, 0),
    line("Na", C.na, 3, NA_TOP, 0),
    line("VioletTop", C.violet, 1.3, [...seq(0, VIOLET_TOP_BG), ...VIOLET_TOP_SIG], 0),
    line("Mn", C.mn, 3, [...seq(0, MN_TOP_BG), ...MN_TOP_SIG], 0),
    line("Fe", C.fe, 3.2, [...seq(0, FE_TOP_BG), ...FE_TOP_SIG], 0),
    line("Mg", C.mg, 2.6, MG_TOP, 0),
    line("Al", C.al, 3.2, [...seq(0, AL_TOP_BG), ...AL_TOP_SIG], 0),
  ];
}

function bottomSeries() {
  return [
    line("SalmonBot", C.salmon, 1.1, seq(0, SALMON_BOT), 1),
    line("PinkBot", C.pink, 1.1, seq(0, PINK_BOT), 1),
    line("LBlueBot", C.lblue, 1.1, seq(0, LBLUE_BOT), 1),
    line("GreenBot", C.lgreen, 1.1, seq(0, GREEN_BOT), 1),
    line("GrayNBot", C.grayn, 1.2, seq(0, GRAYN_BOT), 1),
    line("GrayBrownBot", C.graybrown, 1.2, seq(0, GRAYBROWN_BOT), 1),
    line("OrchidBot", C.orchid, 1.2, seq(30, ORCHID_BOT), 1),
    line("DkBlueBot", C.dkblue, 3, seq(0, DKBLUE_BOT), 1),
    line("TealBot", C.teal, 3, seq(30, TEAL_BOT), 1),
    line("GoldBot", C.gold, 3, seq(0, GOLD_BOT), 1),
    line("TiYel", C.tiYel, 3, seq(30, TI_YEL_BOT), 1),
    line("Ti", C.tiDark, 3, seq(30, TI_DARK_BOT), 1),
    line("PinkPurpleBot", C.pinkgray, 1.2, PINKPURPLE_BOT, 1),
    line("DkPurpleBot", "#5a4c7c", 1.3, DKPURPLE_BOT, 1),
    line("Gray2Bot", "#6d6d80", 1.3, GRAY2_BOT, 1),
    line("GrayBot", C.gray, 1.3, GRAY_BOT, 1),
    line("K2", C.k, 3, K_BOT, 1),
    line("DkTealBot", C.dkteal, 2.6, DKTEAL_BOT, 1),
    line("Na2", C.na, 3, NA_BOT, 1),
    line("VioletBot", C.violet, 1.3, [...seq(0, VIOLET_BOT_BG), ...VIOLET_BOT_SIG], 1),
    line("Mn2", C.mn, 3, [...seq(0, MN_BOT_BG), ...MN_BOT_SIG], 1),
    line("Fe2", C.fe, 3.2, [...seq(0, FE_BOT_BG), ...FE_BOT_SIG], 1),
    line("Mg2", C.mg, 2.6, MG_BOT, 1),
    line("Al2", C.al, 3.2, [...seq(0, AL_BOT_BG), ...AL_BOT_SIG], 1),
  ];
}

function shade(range: number[], yMax: number, idx: number, alpha: number) {
  return {
    type: "line", xAxisIndex: idx, yAxisIndex: idx, silent: true, z: 3,
    data: [[range[0], yMax], [range[1], yMax]], symbol: "none", showSymbol: false,
    lineStyle: { width: 0, opacity: 0 },
    areaStyle: { color: `rgba(78,148,208,${alpha})`, origin: "start" },
  };
}

function dashes(xs: number[], idx: number) {
  return {
    type: "line", xAxisIndex: idx, yAxisIndex: idx, silent: true, z: 5,
    data: [[45, 1000]], symbol: "none", showSymbol: false, lineStyle: { width: 0, opacity: 0 },
    markLine: {
      silent: true, symbol: ["none", "none"], label: { show: false }, animation: false,
      lineStyle: { color: "#000", width: 4, type: [17, 9], opacity: 1 },
      emphasis: { disabled: true },
      data: xs.map((x) => ({ xAxis: x })),
    },
  };
}

function yAxis(idx: number, range: number[]) {
  return {
    type: "log", logBase: 10, gridIndex: idx, min: range[0], max: range[1],
    axisLine: { show: false }, axisTick: { show: false },
    splitLine: { show: true, lineStyle: { color: "#ececec", width: 1 } },
    axisLabel: {
      showMinLabel: false, showMaxLabel: false, color: "#8a8a8a", fontSize: 11, margin: 8,
      fontFamily: '"DejaVu Sans", sans-serif',
      formatter: (v: number) => {
        const l = Math.log10(v);
        const n = Math.round(l);
        if (Math.abs(l - n) > 0.01) return "";
        return "10" + SUPERSCRIPTS[n];
      },
    },
  };
}

function xAxis(idx: number, showLabels: boolean) {
  return {
    type: "value", gridIndex: idx, min: X_MIN, max: X_MAX,
    axisLine: { show: false },
    axisTick: { show: showLabels, customValues: X_TICKS, length: 3, lineStyle: { color: "#aaa" } },
    splitLine: { show: true, lineStyle: { color: "#ececec", width: 1 } },
    axisLabel: { show: showLabels, customValues: X_TICKS, color: "#777", fontSize: 11, margin: 7 },
  };
}

export default function App() {
  const ref = useRef<HTMLDivElement>(null);
  useEffect(() => {
    if (!ref.current) return;
    const chart = echarts.init(ref.current, undefined, { renderer: "svg" });
    const graphics: any[] = BIG_TEXTS.map(([text, x, y, size, fill, align]) => ({
      type: "text", x, y, z: 100, silent: true,
      style: { text, font: `bold ${size}px ${FONT}`, fill, align, verticalAlign: "middle" },
    }));
    graphics.push({
      type: "text", x: 26, y: 636, rotation: Math.PI / 2, z: 100, silent: true,
      style: { text: "Counts Per Second (CPS)", font: `600 32px ${FONT}`, fill: "#000", align: "center", verticalAlign: "middle" },
    });
    graphics.push({
      type: "text", x: 648, y: 1297, z: 100, silent: true,
      style: { text: "Time (s)", font: `600 28px ${FONT}`, lineHeight: 28, fill: "#000", align: "center", verticalAlign: "middle" },
    });
    chart.setOption({
      animation: false,
      backgroundColor: "#fff",
      grid: [
        { left: 78, top: 12, width: 1135, height: 620, show: true, borderColor: "#8f8f8f", borderWidth: 1.5, backgroundColor: "transparent" },
        { left: 78, top: 642, width: 1135, height: 616, show: true, borderColor: "#8f8f8f", borderWidth: 1.5, backgroundColor: "transparent" },
      ],
      xAxis: [xAxis(0, false), xAxis(1, true)],
      yAxis: [yAxis(0, TOP_Y_RANGE), yAxis(1, BOT_Y_RANGE)],
      series: [
        ...topSeries(),
        ...bottomSeries(),
        shade(TOP_ACCEPTED, TOP_Y_RANGE[1], 0, 0.4),
        shade(BOT_ACCEPTED, BOT_Y_RANGE[1], 1, 0.4),
        shade(BOT_EDGE, BOT_Y_RANGE[1], 1, 0.14),
        dashes(TOP_DASHED, 0),
        dashes(BOT_DASHED, 1),
      ],
      graphic: graphics,
    });
    return () => chart.dispose();
  }, []);
  return <div ref={ref} style={{ position: "absolute", left: 0, top: 0, width: 1212, height: 1316 }} />;
}
